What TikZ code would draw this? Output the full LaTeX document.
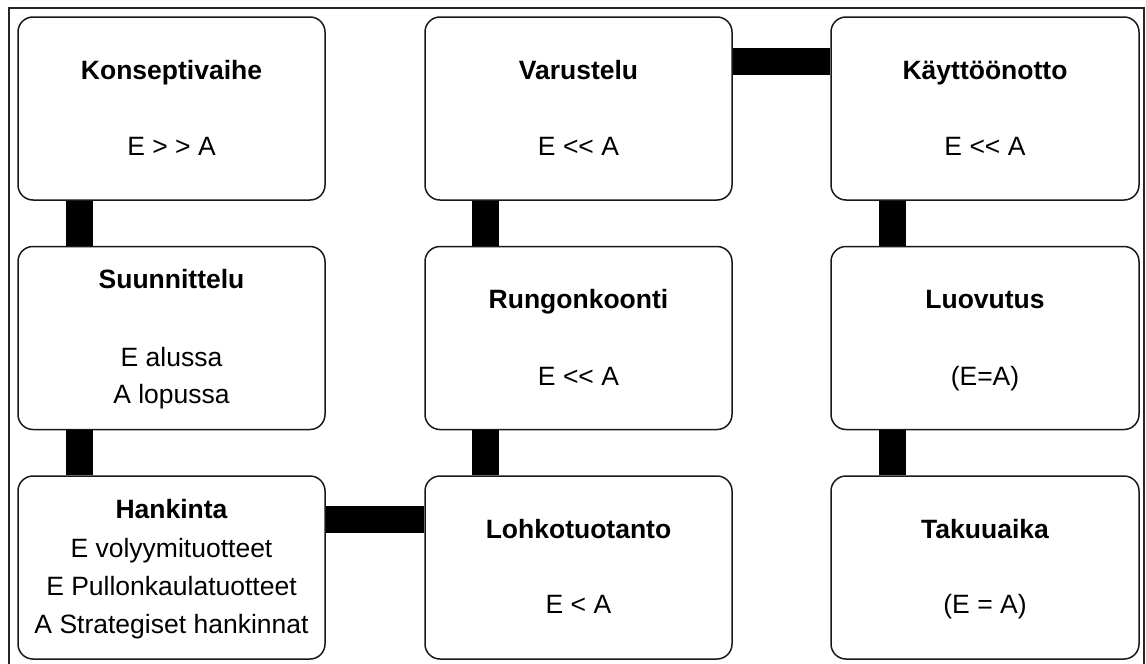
\documentclass[tikz,border=0pt]{standalone}
\usepackage{fontspec}
\setmainfont{Liberation Sans}
\usetikzlibrary{calc}
\begin{document}
\begin{tikzpicture}[x=1pt,y=-1pt,
  phase/.style={draw=black!90, line width=1.5pt, rounded corners=15pt,
    minimum width=307pt, minimum height=183pt, inner sep=0pt, fill=white},
  ttl/.style={anchor=base, inner sep=0pt, font=\fontsize{26.5}{30}\selectfont\bfseries},
  txt/.style={anchor=base, inner sep=0pt, font=\fontsize{26.5}{30}\selectfont},
  link/.style={line width=27pt, black}]
\useasboundingbox (0,0) rectangle (1146,664);
% outer frame (its lower edge lies below the page)
\draw[line width=1.3pt, black!85] (9,680) -- (9,8) -- (1144,8) -- (1144,680);

% column centres 171.5 / 578.5 / 985, row centres 108.5 / 338 / 567.5
\node[phase] (kon) at (171.5,108.5) {};
\node[phase] (suu) at (171.5,338) {};
\node[phase] (han) at (171.5,567.5) {};
\node[phase] (var) at (578.5,108.5) {};
\node[phase] (run) at (578.5,338) {};
\node[phase] (loh) at (578.5,567.5) {};
\node[phase, minimum width=308pt] (kay) at (985,108.5) {};
\node[phase, minimum width=308pt] (luo) at (985,338) {};
\node[phase, minimum width=308pt] (tak) at (985,567.5) {};

% connecting bars
\draw[link] ($(kon.south west)+(62,0)$) -- ($(suu.north west)+(62,0)$);
\draw[link] ($(suu.south west)+(62,0)$) -- ($(han.north west)+(62,0)$);
\draw[link] ($(han.north east)+(0,44.5)$) -- ($(loh.north west)+(0,44.5)$);
\draw[link] ($(loh.north west)+(61.5,0)$) -- ($(run.south west)+(61.5,0)$);
\draw[link] ($(run.north west)+(61.5,0)$) -- ($(var.south west)+(61.5,0)$);
\draw[link] ($(var.north east)+(0,45)$) -- ($(kay.north west)+(0,45)$);
\draw[link] ($(kay.south west)+(62.5,0)$) -- ($(luo.north west)+(62.5,0)$);
\draw[link] ($(luo.south west)+(62.5,0)$) -- ($(tak.north west)+(62.5,0)$);

% texts
\node[ttl] (t1) at (171.5,79) {Konseptivaihe};
\node[txt] (s1) at (171.5,155) {E > > A};
\node[ttl] (t2) at (171.5,288) {Suunnittelu};
\node[txt] (s2a) at (171.5,366) {E alussa};
\node[txt] (s2b) at (171.5,403) {A lopussa};
\node[ttl] (t3) at (171.5,518) {Hankinta};
\node[txt] (s3a) at (171.5,557) {E volyymituotteet};
\node[txt] (s3b) at (171.5,595) {E Pullonkaulatuotteet};
\node[txt] (s3c) at (171.5,633) {A Strategiset hankinnat};

\node[ttl] (t4) at (578.5,79) {Varustelu};
\node[txt] (s4) at (578.5,155) {E {<}{<} A};
\node[ttl] (t5) at (578.5,308) {Rungonkoonti};
\node[txt] (s5) at (578.5,385) {E {<}{<} A};
\node[ttl] (t6) at (578.5,538) {Lohkotuotanto};
\node[txt] (s6) at (578.5,613) {E < A};

\node[ttl] (t7) at (985,79) {Käyttöönotto};
\node[txt] (s7) at (985,155) {E {<}{<} A};
\node[ttl] (t8) at (985,308) {Luovutus};
\node[txt] (s8) at (985,385) {(E=A)};
\node[ttl] (t9) at (985,538) {Takuuaika};
\node[txt] (s9) at (985,613) {(E = A)};
\end{tikzpicture}
\end{document}
